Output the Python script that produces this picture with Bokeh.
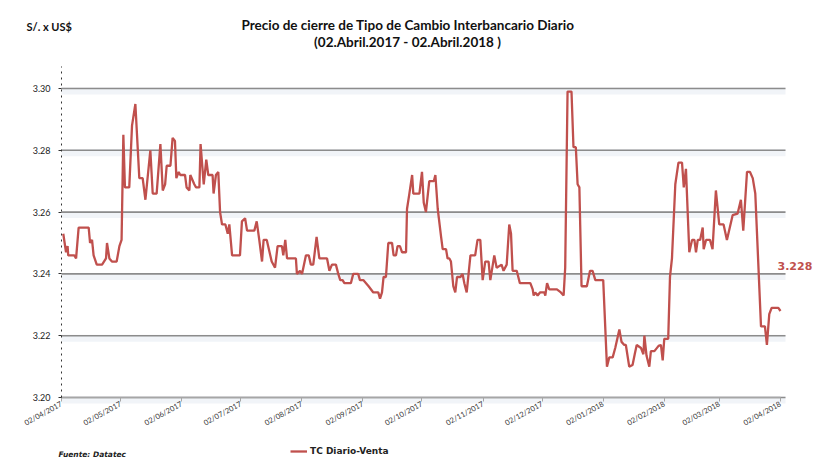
import pandas as pd
from bokeh.plotting import figure
from bokeh.models import (FixedTicker, DatetimeTickFormatter, PrintfTickFormatter, Label,
                          Legend, LegendItem, Range1d)
from bokeh.embed import file_html
from bokeh.resources import INLINE

# ---- data ----
start_date = "2017-04-02"
# days elapsed since 02/04/2017
day_offsets = [
    0.9, 2.3, 3.1, 3.4, 6.5, 7.4, 8.7, 13.8, 14.5, 15.5, 16.3, 17.9, 20.6, 22.6, 23.1, 24.3, 25.6, 28.0,
    29.4, 30.5, 31.4, 32.2, 34.4, 35.8, 37.5, 39.5, 41.2, 42.6, 45.1, 46.3, 48.3, 50.2, 51.4, 52.6, 53.4,
    55.3, 56.4, 57.6, 58.3, 59.5, 60.3, 62.7, 63.5, 64.9, 65.4, 67.4, 68.3, 70.0, 70.6,
    72.2, 73.5, 74.5, 76.7, 77.2, 78.4, 79.6, 80.5, 81.5, 83.2, 84.4, 85.2, 86.6, 90.6, 91.6, 93.2, 94.2,
    97.9, 99.1, 100.4, 101.8, 102.6, 104.2, 106.7, 108.4, 109.7, 111.9, 112.6, 113.6, 114.5, 119.0, 119.5,
    121.1, 122.1, 124.1, 125.5, 126.6, 127.8, 129.5, 130.9, 133.1, 133.9, 134.8, 136.0, 137.3, 139.3,
    140.5, 141.5, 142.7, 143.6,
    146.9, 148.1, 150.6, 151.5, 153.2, 154.6, 155.9, 158.3, 160.8, 161.7, 162.7, 163.5, 164.7, 165.9,
    167.8, 168.6, 169.8, 170.6, 171.8, 172.9, 174.9, 175.4, 176.6, 178.0, 178.6, 181.7, 183.0, 183.9,
    185.0, 186.7, 189.0, 189.8, 191.0, 192.7, 193.5, 195.2, 196.0, 196.9, 197.7, 198.9, 199.9, 200.8,
    202.5, 203.6, 204.5, 205.7, 207.6, 210.0, 211.2, 212.6, 213.8, 215.1, 216.8, 217.7,
    219.7, 220.9, 223.4, 224.4, 226.0, 227.3, 228.2, 229.0, 231.1, 232.7, 238.0, 239.2, 239.7, 240.5,
    241.7, 242.9, 245.1, 245.6, 246.5, 247.6, 251.5, 253.5, 254.9, 255.7, 256.9, 258.9, 259.9, 261.1,
    262.0, 262.9, 264.0, 266.7, 268.3, 269.6, 271.0, 275.0, 276.9, 278.1, 279.8, 281.1, 283.2, 284.3,
    285.7, 286.5, 288.2, 289.9, 291.0,
    292.0, 294.2, 295.4, 295.9, 297.0, 298.4, 299.2, 301.0, 303.1, 304.3, 305.2, 306.0, 308.0, 308.9,
    309.9, 311.6, 313.2, 315.0, 315.9, 317.0, 318.7, 320.1, 321.3, 322.1, 323.0, 324.2, 325.5, 326.0,
    327.2, 329.2, 330.5, 332.2, 333.9, 336.1, 337.8, 340.7, 343.2, 344.9, 346.1, 348.0, 349.5, 350.9,
    352.2, 355.1, 357.1, 358.1, 359.3, 360.5, 363.9, 365.0,
]
tc_venta = [
    3.253, 3.247, 3.249, 3.246, 3.246, 3.245, 3.255, 3.255, 3.250, 3.251, 3.246, 3.243, 3.243, 3.245, 3.250, 3.245, 3.244, 3.244,
    3.249, 3.251, 3.285, 3.268, 3.268, 3.288, 3.295, 3.271, 3.271, 3.264, 3.280, 3.266, 3.266, 3.282, 3.267, 3.269, 3.275,
    3.275, 3.284, 3.283, 3.271, 3.273, 3.272, 3.272, 3.268, 3.267, 3.272, 3.269, 3.268, 3.268, 3.282,
    3.269, 3.277, 3.272, 3.272, 3.266, 3.272, 3.273, 3.260, 3.256, 3.256, 3.253, 3.256, 3.246, 3.246, 3.257, 3.258, 3.254,
    3.254, 3.257, 3.251, 3.244, 3.251, 3.251, 3.244, 3.242, 3.249, 3.249, 3.246, 3.251, 3.245, 3.245, 3.240,
    3.241, 3.240, 3.246, 3.246, 3.243, 3.243, 3.252, 3.245, 3.245, 3.245, 3.245, 3.241, 3.243, 3.243,
    3.240, 3.238, 3.238, 3.237,
    3.237, 3.240, 3.240, 3.238, 3.238, 3.237, 3.236, 3.234, 3.234, 3.232, 3.234, 3.239, 3.239, 3.250,
    3.250, 3.246, 3.246, 3.249, 3.249, 3.247, 3.247, 3.261, 3.266, 3.272, 3.266, 3.266, 3.273, 3.263,
    3.260, 3.270, 3.270, 3.272, 3.261, 3.252, 3.248, 3.248, 3.245, 3.245, 3.244, 3.236, 3.234, 3.239,
    3.239, 3.240, 3.237, 3.234, 3.246, 3.246, 3.251, 3.251, 3.238, 3.244, 3.244, 3.238,
    3.246, 3.242, 3.243, 3.241, 3.243, 3.256, 3.253, 3.241, 3.241, 3.237, 3.237, 3.235, 3.233, 3.234,
    3.233, 3.234, 3.234, 3.233, 3.237, 3.235, 3.235, 3.234, 3.233, 3.242, 3.299, 3.299, 3.281, 3.281,
    3.269, 3.268, 3.236, 3.236, 3.241, 3.241, 3.238, 3.238, 3.210, 3.213, 3.213, 3.216, 3.222, 3.218,
    3.217, 3.217, 3.210, 3.2105, 3.214,
    3.217, 3.216, 3.214, 3.220, 3.2135, 3.210, 3.215, 3.215, 3.2167, 3.217, 3.212, 3.219, 3.219, 3.239,
    3.245, 3.269, 3.276, 3.276, 3.268, 3.274, 3.247, 3.251, 3.251, 3.247, 3.251, 3.251, 3.255, 3.248,
    3.251, 3.251, 3.248, 3.267, 3.256, 3.256, 3.251, 3.259, 3.2595, 3.264, 3.254, 3.273, 3.273, 3.271,
    3.266, 3.223, 3.223, 3.217, 3.227, 3.229, 3.229, 3.228,
]
tick_dates = ["2017-04-02", "2017-05-02", "2017-06-02", "2017-07-02", "2017-08-02", "2017-09-02",
              "2017-10-02", "2017-11-02", "2017-12-02", "2018-01-02", "2018-02-02", "2018-03-02",
              "2018-04-02"]
y_ticks = [3.20, 3.22, 3.24, 3.26, 3.28, 3.30]
y_axis_top = 3.307
series_name = "TC Diario-Venta"
title_line1 = "Precio de cierre de Tipo de Cambio Interbancario  Diario"
title_line2 = "(02.Abril.2017 - 02.Abril.2018 )"
y_unit = "S/. x US$"
source_note = "Fuente: Datatec"

# ---- layout (pixels) ----
W, H = 825, 462
PX_LEFT, PX_RIGHT = 61, 780      # data area, from the left edge
PX_TOP, PX_BOTTOM = 88, 397      # y of top tick / bottom tick, from the top edge

x = pd.Timestamp(start_date) + pd.to_timedelta(day_offsets, unit="D")
tick_ms = [pd.Timestamp(d).value // 10**6 for d in tick_dates]
x0_ms, x1_ms = tick_ms[0], tick_ms[-1]
mpp = (x1_ms - x0_ms) / (PX_RIGHT - PX_LEFT)
upp = (y_ticks[-1] - y_ticks[0]) / (PX_BOTTOM - PX_TOP)

LINE = "#c0504d"
p = figure(width=W, height=H, x_axis_type="datetime", output_backend="svg",
           toolbar_location=None, title=None,
           x_range=Range1d(x0_ms - PX_LEFT * mpp, x1_ms + (W - PX_RIGHT) * mpp),
           y_range=Range1d(y_ticks[0] - (H - PX_BOTTOM) * upp, y_ticks[-1] + PX_TOP * upp),
           min_border=0)
p.outline_line_color = None
p.background_fill_color = "white"
p.border_fill_color = "white"
p.xgrid.visible = False
p.ygrid.visible = False

# horizontal grid lines (with a soft glow just below) across the data span
n = len(y_ticks)
glow_y = [t - 2.5 * upp for t in y_ticks]
p.segment(x0=[x0_ms] * n, x1=[x1_ms + 5 * mpp] * n, y0=glow_y, y1=glow_y,
          line_color="#f1f4f8", line_width=7)
p.segment(x0=[x0_ms] * n, x1=[x1_ms + 5 * mpp] * n, y0=y_ticks, y1=y_ticks,
          line_color="#8c8c8c", line_width=1.6)

# x axis
xa = p.xaxis[0]
xa.fixed_location = y_ticks[0]
xa.bounds = (x0_ms, x1_ms)
xa.ticker = FixedTicker(ticks=tick_ms)
fmt = "%d/%m/%Y"
xa.formatter = DatetimeTickFormatter(microseconds=fmt, milliseconds=fmt, seconds=fmt, minsec=fmt,
                                     minutes=fmt, hourmin=fmt, hours=fmt, days=fmt, months=fmt,
                                     years=fmt)
xa.major_label_orientation = 0.5
xa.major_label_text_font = "Lato"
xa.major_label_text_font_size = "7.5px"
xa.major_label_text_color = "#333333"
xa.axis_line_color = "#a6a6a6"
xa.axis_line_width = 1.5
xa.major_tick_line_color = "#a6a6a6"
xa.major_tick_out = 4
xa.major_tick_in = 0
xa.minor_tick_line_color = None
xa.major_label_standoff = 2

# y axis
ya = p.yaxis[0]
ya.fixed_location = x0_ms
ya.bounds = (y_ticks[0], y_axis_top)
ya.ticker = FixedTicker(ticks=y_ticks)
ya.formatter = PrintfTickFormatter(format="%.2f")
ya.major_label_text_font = "Lato"
ya.major_label_text_font_size = "9px"
ya.major_label_text_color = "#222222"
ya.axis_line_color = "#333333"
ya.axis_line_dash = "dotted"
ya.axis_line_width = 1
ya.major_tick_line_color = "#333333"
ya.major_tick_out = 3
ya.major_tick_in = 0
ya.minor_tick_line_color = None
ya.major_label_standoff = 8

r = p.line(x, tc_venta, line_color=LINE, line_width=2.3)

legend = Legend(items=[LegendItem(label=series_name, renderers=[r])], location=(290, 6),
                orientation="horizontal", border_line_color=None, background_fill_alpha=0,
                label_text_font="DejaVu Sans", label_text_font_size="9px",
                label_text_font_style="bold", label_text_color="#222222",
                glyph_width=17, glyph_height=10, padding=0, margin=0, label_standoff=3)
p.add_layout(legend)

# texts (screen units from the bottom-left corner)
def note(text, x0, y_from_top, size, style="bold", font="Lato", align="left", color="#111111"):
    p.add_layout(Label(x=x0, y=H - y_from_top, x_units="screen", y_units="screen", text=text,
                       text_font=font, text_font_size=size, text_font_style=style,
                       text_align=align, text_baseline="middle", text_color=color))

note(y_unit, 26, 26, "11px")
note(title_line1, 409, 24, "13.5px", align="center")
note(title_line2, 407, 41, "13.5px", align="center")
note(source_note, 58, 454, "7.5px", style="bold italic", font="DejaVu Sans", color="#222222")
note(f"{tc_venta[-1]:.3f}", 777, 265, "11px", font="DejaVu Sans", color=LINE)

open("out.html", "w").write(file_html(p, INLINE))
